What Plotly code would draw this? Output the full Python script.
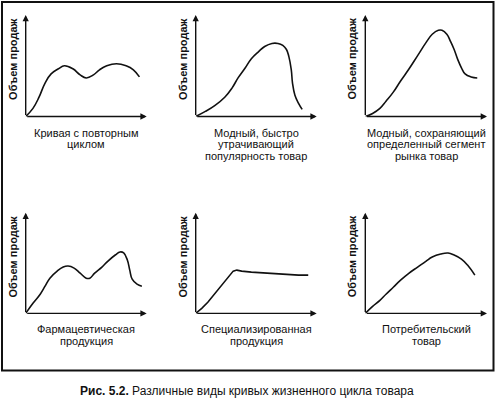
import plotly.graph_objects as go

# ---- data (time in % of axis length, sales volume in % of axis height) ----
titles = [
    ["Кривая с повторным", "циклом"],
    ["Модный, быстро", "утрачивающий", "популярность товар"],
    ["Модный, сохраняющий", "определенный сегмент", "рынка товар"],
    ["Фармацевтическая", "продукция"],
    ["Специализированная", "продукция"],
    ["Потребительский", "товар"],
]
y_label = "Объем продаж"
fig_caption_bold = "Рис. 5.2."
fig_caption = "Различные виды кривых жизненного цикла товара"

p1_x = [0, 6, 11, 16, 21, 27, 32, 39, 45, 50, 56, 61, 67, 75, 83, 89, 94]
p1_y = [0, 8, 19, 33, 42, 47, 50, 47, 41, 38, 41, 46, 50, 52, 50, 46, 39]

p2_x = [0, 8, 16, 24, 30, 35, 41, 46, 52, 57, 63, 68, 72, 75, 77, 79, 80, 82, 85, 88]
p2_y = [0, 5, 11, 19, 28, 38, 48, 57, 64, 69, 72, 72, 70, 66, 59, 46, 33, 21, 13, 7]

p3_x = [0, 6, 12, 17, 23, 29, 36, 43, 50, 55, 60, 63, 67, 70, 73, 76, 79, 82, 87, 92]
p3_y = [0, 3, 8, 15, 24, 35, 47, 60, 73, 81, 85, 85, 81, 74, 66, 56, 48, 42, 39, 38]

p4_x = [0, 6, 12, 16, 20, 26, 31, 35, 40, 45, 50, 53, 57, 63, 68, 74, 78, 81, 84, 86, 88, 92, 96]
p4_y = [0, 10, 19, 27, 35, 42, 46, 47, 45, 40, 35, 35, 40, 46, 52, 58, 61, 60, 53, 43, 34, 29, 27]

p5_x = [0, 5, 10, 16, 21, 27, 31, 34, 38, 46, 57, 71, 85, 93]
p5_y = [0, 5, 11, 20, 28, 37, 42, 43, 42, 41, 40, 39, 38, 38]

p6_x = [0, 6, 12, 17, 23, 29, 36, 43, 50, 55, 62, 68, 73, 79, 84, 90]
p6_y = [0, 7, 13, 19, 26, 33, 40, 46, 52, 56, 59, 60, 58, 54, 48, 38]

series = [(p1_x, p1_y, "spline"), (p2_x, p2_y, "spline"), (p3_x, p3_y, "spline"),
          (p4_x, p4_y, "spline"), (p5_x, p5_y, "linear"), (p6_x, p6_y, "spline")]

# ---- layout geometry (pixels) ----
W, H = 496, 398
col_left = [25.7, 195.7, 365.3]
col_w = [121.0, 121.0, 121.7]
row_bottom = [116.5, 313.4]
row_top = [15.0, 212.7]

FONT = "Liberation Sans, Arial, sans-serif"
INK = "#111111"

def px(x):
    return x / W

def py(y):
    return 1 - y / H

fig = go.Figure()
annotations = []
layout = {}

for i, (xs, ys, shape) in enumerate(series):
    r, c = divmod(i, 3)
    n = "" if i == 0 else str(i + 1)
    xl, xr = col_left[c], col_left[c] + col_w[c]
    yb, yt = row_bottom[r], row_top[r]
    layout["xaxis" + n] = dict(domain=[px(xl), px(xr)], range=[0, 100], visible=False,
                               anchor="y" + n, fixedrange=True)
    layout["yaxis" + n] = dict(domain=[py(yb), py(yt)], range=[0, 100], visible=False,
                               anchor="x" + n, fixedrange=True)
    line = dict(color=INK, width=1.6, shape=shape)
    if shape == "spline":
        line["smoothing"] = 1.2
    fig.add_trace(go.Scatter(x=xs, y=ys, mode="lines", xaxis="x" + n, yaxis="y" + n,
                             line=line, hoverinfo="skip", showlegend=False))
    # axis arrows
    annotations.append(dict(xref="x" + n + " domain", yref="y" + n + " domain",
                            x=1, y=0, ax=-(xr - xl), ay=0, axref="pixel", ayref="pixel",
                            text="", showarrow=True, arrowhead=2, arrowsize=0.9,
                            arrowwidth=1.4, arrowcolor=INK, standoff=0, startstandoff=0))
    annotations.append(dict(xref="x" + n + " domain", yref="y" + n + " domain",
                            x=0, y=1, ax=0, ay=(yb - yt), axref="pixel", ayref="pixel",
                            text="", showarrow=True, arrowhead=2, arrowsize=0.9,
                            arrowwidth=1.4, arrowcolor=INK, standoff=0, startstandoff=0))
    # y-axis label
    annotations.append(dict(xref="paper", yref="paper", x=px(xl - 13), y=py(yt + 1.7),
                            xanchor="center", yanchor="top", textangle=-90,
                            text="<b>" + y_label + "</b>", showarrow=False,
                            font=dict(family=FONT, size=11, color=INK)))
    # caption lines
    cx = (xl + xr) / 2
    for k, t in enumerate(titles[i]):
        annotations.append(dict(xref="paper", yref="paper", x=px(cx),
                                y=py(yb + 16 + 11.8 * k), xanchor="center", yanchor="middle",
                                text=t, showarrow=False,
                                font=dict(family=FONT, size=11, color=INK)))

# figure caption
annotations.append(dict(xref="paper", yref="paper", x=px(247.0), y=py(391),
                        xanchor="center", yanchor="middle",
                        text="<b>" + fig_caption_bold + "</b> " + fig_caption,
                        showarrow=False, font=dict(family=FONT, size=12, color=INK)))

shapes = [dict(type="rect", xref="paper", yref="paper", x0=px(2), y0=py(2),
               x1=px(493.5), y1=py(370.5), line=dict(color=INK, width=2))]

fig.update_layout(width=W, height=H, margin=dict(l=0, r=0, t=0, b=0),
                  paper_bgcolor="white", plot_bgcolor="white",
                  annotations=annotations, shapes=shapes, showlegend=False, **layout)

fig.write_html("out.html", config={"displayModeBar": False},
               post_script="document.body.style.margin='0';document.body.style.overflow='hidden';")
